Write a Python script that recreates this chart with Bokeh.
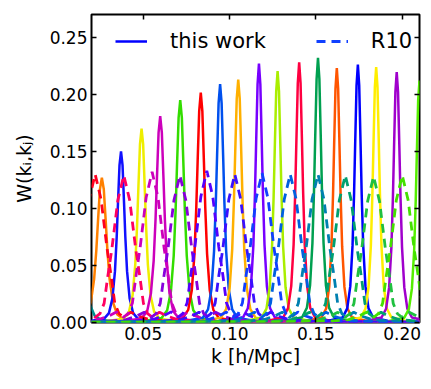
import numpy as np
from bokeh.plotting import figure
from bokeh.models import (LinearAxis, FixedTicker, PrintfTickFormatter, Range1d,
                          Legend, LegendItem, CustomJSTickFormatter)
from bokeh.embed import file_html
from bokeh.resources import INLINE

# ---- data ----
# "this work" windows: peak centre k, peak height, half width at half max, colour
solid_k = [0.0128, 0.0260, 0.0371, 0.0490, 0.0598, 0.0714, 0.0833, 0.0945, 0.1050,
           0.1170, 0.1278, 0.1403, 0.1512, 0.1621, 0.1743, 0.1849, 0.1968, 0.2100]
solid_h = [0.110, 0.127, 0.150, 0.170, 0.181, 0.195, 0.2015, 0.209, 0.213,
           0.227, 0.2205, 0.228, 0.232, 0.223, 0.226, 0.224, 0.2195, 0.212]
solid_w = [0.0032, 0.0032, 0.0025, 0.0026, 0.0027, 0.0027, 0.0026, 0.0025, 0.0025,
           0.0023, 0.0023, 0.0023, 0.0023, 0.0022, 0.0022, 0.0022, 0.0022, 0.0022]
solid_c = ["#009090", "#ff8000", "#1010ff", "#eeee00", "#cc00bb", "#33dd00", "#ff0000",
           "#0050ee", "#ffb000", "#7700ff", "#aaee00", "#ff0040", "#00a050", "#ff5500",
           "#0000ff", "#ffee00", "#a000cc", "#55ee00"]

# R10 windows
dash_k = [0.0221, 0.0387, 0.0551, 0.0712, 0.0868, 0.1030, 0.1188, 0.1351, 0.1512,
          0.1670, 0.1834, 0.2000]
dash_h = [0.130, 0.129, 0.132, 0.129, 0.133, 0.130, 0.131, 0.130, 0.130, 0.129, 0.128, 0.129]
dash_w = [0.0069] * 12
dash_c = ["#ff0020", "#ff0060", "#cc00bb", "#8800dd", "#5500ff", "#3a10ff", "#1040ff",
          "#0060e0", "#0080b0", "#00a070", "#20c040", "#44e000"]

# window shapes (offset in half widths, fraction of peak)
solid_prof_x = [-60, -15, -8, -4, -2.8, -2.0, -1.4, -1.0, -0.7, -0.35, 0,
                0.35, 0.7, 1.0, 1.4, 2.0, 2.8, 4, 8, 15, 60]
solid_prof_y = [0.0, 0.002, 0.006, 0.02, 0.055, 0.14, 0.30, 0.5, 0.7, 0.92, 1.0,
                0.92, 0.7, 0.5, 0.30, 0.14, 0.055, 0.02, 0.006, 0.002, 0.0]
dash_prof_x = [-40, -10, -6, -4.5, -3.6, -3.0, -2.4, -2.0, -1.65, -1.35, -1.0, -0.5, 0,
               0.5, 1.0, 1.35, 1.65, 2.0, 2.4, 3.0, 3.6, 4.5, 6, 10, 40]
dash_prof_y = [0.0, 0.004, 0.01, 0.02, 0.045, 0.07, 0.035, 0.06, 0.13, 0.31, 0.5, 0.83, 1.0,
               0.83, 0.5, 0.31, 0.13, 0.06, 0.035, 0.07, 0.045, 0.02, 0.01, 0.004, 0.0]

x_ticks = [0.05, 0.10, 0.15, 0.20]
y_ticks = [0.00, 0.05, 0.10, 0.15, 0.20, 0.25]

FONT = "DejaVu Sans"

p = figure(width=429, height=387, output_backend="svg", toolbar_location=None,
           x_range=Range1d(0.02, 0.21), y_range=Range1d(0.0, 0.27),
           min_border_left=91, min_border_right=10, min_border_top=14, min_border_bottom=65)
p.grid.visible = False
p.background_fill_color = "white"
p.outline_line_color = "black"
p.outline_line_width = 2

bottom = p.below[0]
left = p.left[0]

spx = np.array(solid_prof_x)
spy = np.array(solid_prof_y)
solid_r = []
for k, h, w, c in zip(solid_k, solid_h, solid_w, solid_c):
    solid_r.append(p.line(k + w * spx, h * spy, line_color=c, line_width=2.5))

dpx = np.array(dash_prof_x)
dpy = np.array(dash_prof_y)
dash_r = []
for k, h, w, c in zip(dash_k, dash_h, dash_w, dash_c):
    dash_r.append(p.line(k + w * dpx, h * dpy, line_color=c, line_width=2.8, line_dash="9 6"))

bottom.ticker = FixedTicker(ticks=x_ticks)
left.ticker = FixedTicker(ticks=y_ticks)
bottom.formatter = PrintfTickFormatter(format="%.2f")
left.formatter = PrintfTickFormatter(format="%.2f")

top = LinearAxis(ticker=FixedTicker(ticks=x_ticks),
                 formatter=CustomJSTickFormatter(code="return ''"))
right = LinearAxis(ticker=FixedTicker(ticks=y_ticks),
                   formatter=CustomJSTickFormatter(code="return ''"))
p.add_layout(top, "above")
p.add_layout(right, "right")

for ax in [bottom, left, top, right]:
    ax.axis_line_color = None
    ax.major_tick_in = 5
    ax.major_tick_out = 0
    ax.major_tick_line_color = "black"
    ax.major_tick_line_width = 1.5
    ax.minor_tick_line_color = None
    ax.major_label_text_font = FONT
    ax.major_label_text_color = "black"

for ax in [top, right]:
    ax.major_label_text_font_size = "1px"
    ax.major_label_standoff = 0

for ax in [bottom, left]:
    ax.major_label_text_font_size = "17px"
    ax.major_label_standoff = 4
    ax.axis_label_text_font = FONT
    ax.axis_label_text_font_size = "19px"
    ax.axis_label_text_font_style = "normal"
    ax.axis_label_text_color = "black"

bottom.axis_label = "k [h/Mpc]"
bottom.axis_label_standoff = 2
left.axis_label = "W(kᵢ,kⱼ)"
left.axis_label_standoff = 12

lg = Legend(items=[LegendItem(label="this work", renderers=[solid_r[14]]),
                   LegendItem(label="R10", renderers=[dash_r[6]])])
lg.orientation = "horizontal"
lg.location = (24, 269)
lg.border_line_color = None
lg.background_fill_alpha = 0
lg.label_text_font = FONT
lg.label_text_font_size = "21px"
lg.label_text_color = "black"
lg.glyph_width = 32
lg.label_standoff = 23
lg.spacing = 50
lg.padding = 0
lg.margin = 0
p.add_layout(lg, "center")

open("out.html", "w").write(file_html(p, INLINE))
